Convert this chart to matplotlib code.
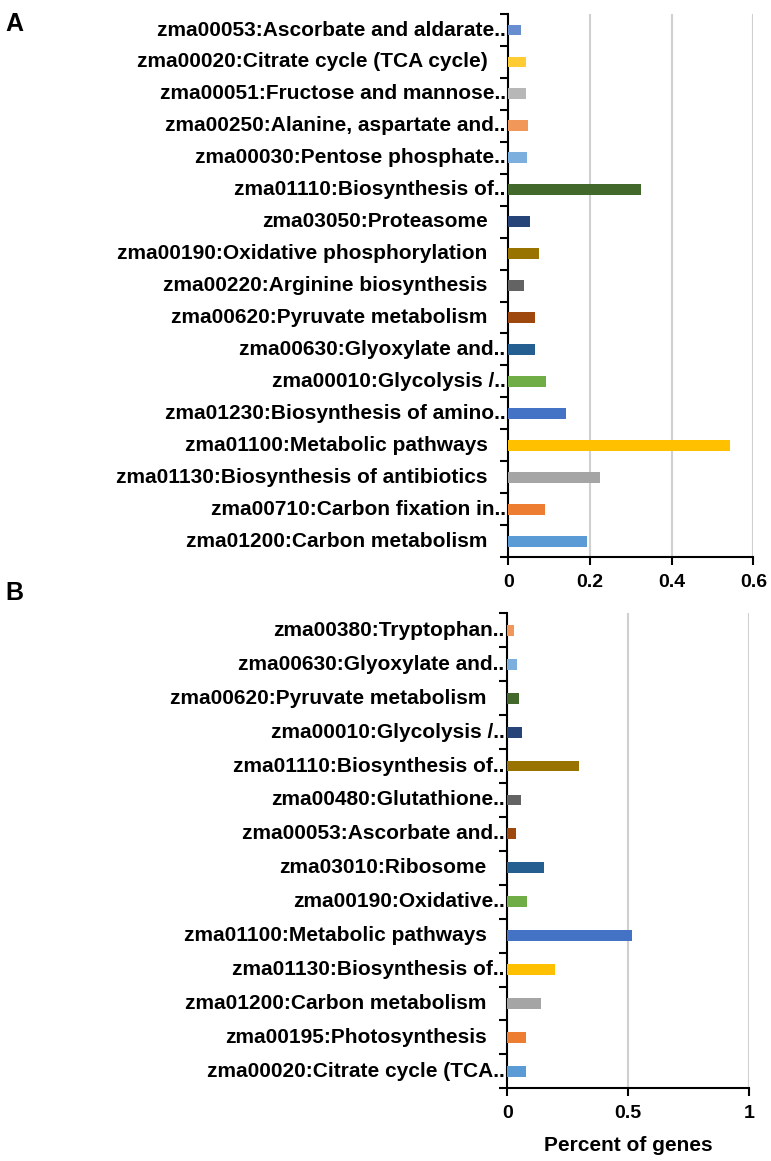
import matplotlib.pyplot as plt
import matplotlib.transforms as mtransforms
import numpy as np

plt.rcParams['font.family'] = ['Liberation Sans', 'DejaVu Sans']
plt.rcParams['font.weight'] = 'bold'

# panel A, listed bottom to top
terms_a = ['zma01200:Carbon metabolism', 'zma00710:Carbon fixation in..',
           'zma01130:Biosynthesis of antibiotics', 'zma01100:Metabolic pathways',
           'zma01230:Biosynthesis of amino..', 'zma00010:Glycolysis /..',
           'zma00630:Glyoxylate and..', 'zma00620:Pyruvate metabolism',
           'zma00220:Arginine biosynthesis', 'zma00190:Oxidative phosphorylation',
           'zma03050:Proteasome', 'zma01110:Biosynthesis of..',
           'zma00030:Pentose phosphate..', 'zma00250:Alanine, aspartate and..',
           'zma00051:Fructose and mannose..', 'zma00020:Citrate cycle (TCA cycle)',
           'zma00053:Ascorbate and aldarate..']
pct_a = [0.193, 0.089, 0.225, 0.543, 0.141, 0.092, 0.066, 0.066, 0.038,
         0.076, 0.053, 0.324, 0.046, 0.047, 0.043, 0.043, 0.030]

# panel B, listed bottom to top
terms_b = ['zma00020:Citrate cycle (TCA..', 'zma00195:Photosynthesis',
           'zma01200:Carbon metabolism', 'zma01130:Biosynthesis of..',
           'zma01100:Metabolic pathways', 'zma00190:Oxidative..',
           'zma03010:Ribosome', 'zma00053:Ascorbate and..',
           'zma00480:Glutathione..', 'zma01110:Biosynthesis of..',
           'zma00010:Glycolysis /..', 'zma00620:Pyruvate metabolism',
           'zma00630:Glyoxylate and..', 'zma00380:Tryptophan..']
pct_b = [0.077, 0.077, 0.138, 0.199, 0.514, 0.081, 0.151, 0.037,
         0.055, 0.298, 0.059, 0.047, 0.039, 0.028]

# excel office palette, cycling
palette = ['#5B9BD5', '#ED7D31', '#A5A5A5', '#FFC000', '#4472C4', '#70AD47',
           '#255E91', '#9E480E', '#636363', '#997300', '#264478', '#43682B',
           '#7CAFDD', '#F1975A', '#B7B7B7', '#FFCD33', '#698ED0']


def bar_panel(fig, ax, terms, vals, xmax, xticks, xticklabels, barh):
    n = len(terms)
    y = np.arange(n)
    ax.barh(y, vals, height=barh, color=palette[:n], zorder=3)
    ax.set_ylim(-0.5, n - 0.5)
    ax.set_xlim(0, xmax)
    ax.set_yticks(y)
    ax.set_yticklabels([])
    ax.set_yticks(np.arange(n + 1) - 0.5, minor=True)
    ax.tick_params(axis='y', which='major', length=0)
    ax.tick_params(axis='y', which='minor', length=6, width=1.5, direction='out')
    # excel style labels: cut-off names run up to the axis
    trans = ax.get_yaxis_transform()
    for yi, t in zip(y, terms):
        dx = -2 if t.endswith('..') else -15
        off = mtransforms.offset_copy(trans, fig=fig, x=dx, y=0, units='points')
        ax.text(0, yi, t, transform=off, ha='right', va='center',
                fontsize=15, fontweight='bold')
    ax.set_xticks(xticks)
    ax.set_xticklabels(xticklabels, fontsize=14, fontweight='bold')
    ax.tick_params(axis='x', length=6, width=1.5, direction='out', pad=6)
    ax.grid(axis='x', color='#D0D0D0', linewidth=1.5, zorder=0)
    for s in ['top', 'right']:
        ax.spines[s].set_visible(False)
    for s in ['left', 'bottom']:
        ax.spines[s].set_linewidth(1.5)


fig = plt.figure(figsize=(7.71, 11.61), dpi=100)

ax1 = fig.add_axes([0.6593, 0.5202, 0.3178, 0.4677])
bar_panel(fig, ax1, terms_a, pct_a, 0.6, [0, 0.2, 0.4, 0.6], ['0', '0.2', '0.4', '0.6'], 0.34)

ax2 = fig.add_axes([0.658, 0.0626, 0.3135, 0.4091])
bar_panel(fig, ax2, terms_b, pct_b, 1.0, [0, 0.5, 1.0], ['0', '0.5', '1'], 0.32)
ax2.set_xlabel('Percent of genes', fontsize=15, fontweight='bold', labelpad=10)

fig.text(0.007, 0.99, 'A', fontsize=18, fontweight='bold', va='top')
fig.text(0.007, 0.5, 'B', fontsize=18, fontweight='bold', va='top')

fig.savefig('out.png', dpi=100)
